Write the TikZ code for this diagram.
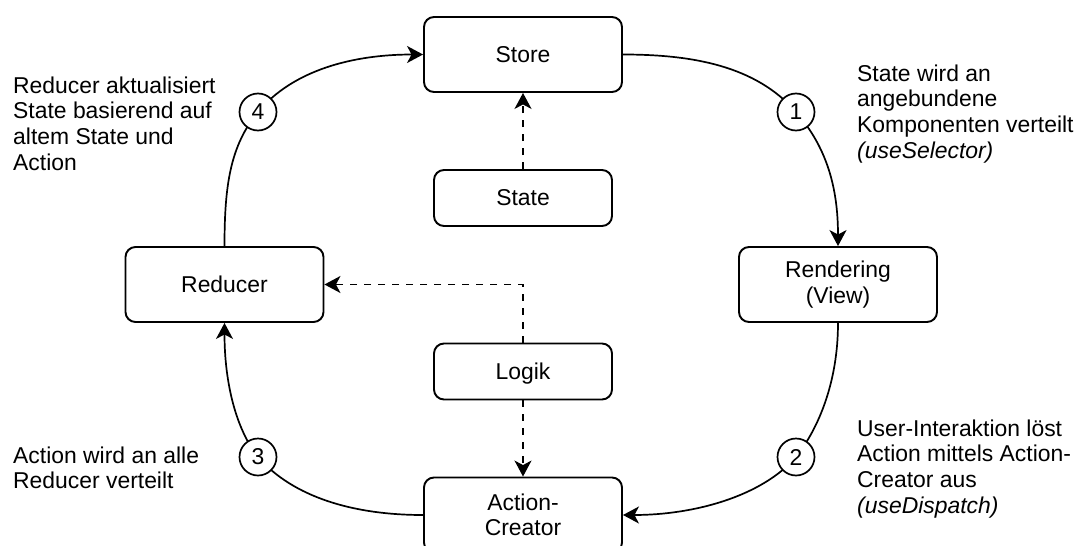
\documentclass[tikz,border=0pt]{standalone}
\usepackage{fontspec}
\setmainfont{Liberation Sans}
\usetikzlibrary{arrows.meta}
\pgfdeclarelayer{background}
\pgfsetlayers{background,main}

\tikzset{
  lbl/.style={font=\fontsize{22.9}{25.6}\selectfont},
  box/.style={draw, line width=1.9pt, rounded corners=10pt, fill=white,
    minimum width=198pt, minimum height=75pt, align=center, inner sep=0pt, lbl},
  smallbox/.style={box, minimum width=178pt, minimum height=56pt},
  oneline/.style={text depth=0pt},
  num/.style={draw, circle, line width=1.7pt, fill=white, minimum size=37pt,
    inner sep=0pt, lbl},
  tip/.style={-{Stealth[length=16pt,width=17pt,inset=4.5pt]}},
  flow/.style={line width=1.7pt, tip},
  dep/.style={flow, dash pattern=on 7pt off 7pt},
  note/.style={anchor=base west, inner sep=0pt, lbl},
}

\begin{document}
\begin{tikzpicture}[x=1pt, y=-1pt]
  \useasboundingbox (0,0) rectangle (1076,546);
  \clip (0,0) rectangle (1076,546);

  % boxes of the cycle
  \node[box, oneline] (store)     at (523,54.5)  {Store};
  \node[box, oneline] (reducer)   at (224.5,284.5) {Reducer};
  \node[box]          (rendering) at (838,284.5) {Rendering\\(View)};
  \node[box]          (action)    at (523,515)   {Action-\\Creator};

  % inner boxes
  \node[smallbox, oneline] (state) at (523,198)   {State};
  \node[smallbox, oneline] (logik) at (523,371.5) {Logik};

  % step numbers sitting on the curves
  \node[num] (c1) at (796,112) {1};
  \node[num] (c2) at (796,457) {2};
  \node[num] (c3) at (258,457) {3};
  \node[num] (c4) at (258,112) {4};

  \begin{pgfonlayer}{background}
    \fill[white] (0,0) rectangle (1076,546);
    % main cycle
    \draw[flow] (store.east) .. controls +(70,0) and +(-40,-46) .. (c1.center)
                .. controls +(30,34.5) and +(0,-60) .. (rendering.north);
    \draw[flow] (rendering.south) .. controls +(0,60) and +(22,-28) .. (c2.center)
                .. controls +(-35,40) and +(70,0) .. (action.east);
    \draw[flow] (action.west) .. controls +(-70,0) and +(35,40) .. (c3.center)
                .. controls +(-22,-28) and +(0,60) .. (reducer.south);
    \draw[flow] (reducer.north) .. controls +(0,-60) and +(-28,34) .. (c4.center)
                .. controls +(35,-42) and +(-70,0) .. (store.west);
  \end{pgfonlayer}

  % dependencies
  \draw[dep] (state.north) -- (store.south);
  \draw[dep] (logik.north) |- (reducer.east);
  \draw[dep] (logik.south) -- (action.north);

  % explanations
  \node[note] (n4) at (13,93.3) {\begin{tabular}[t]{@{}l@{}}Reducer aktualisiert\\
    State basierend auf\\ altem State und\\ Action\end{tabular}};
  \node[note] (n1) at (857,81.3) {\begin{tabular}[t]{@{}l@{}}State wird an\\
    angebundene\\ Komponenten verteilt\\ \textit{(useSelector)}\end{tabular}};
  \node[note] (n2) at (857,436.3) {\begin{tabular}[t]{@{}l@{}}User-Interaktion löst\\
    Action mittels Action-\\ Creator aus\\ \textit{(useDispatch)}\end{tabular}};
  \node[note] (n3) at (13,463.3) {\begin{tabular}[t]{@{}l@{}}Action wird an alle\\
    Reducer verteilt\end{tabular}};
\end{tikzpicture}
\end{document}
